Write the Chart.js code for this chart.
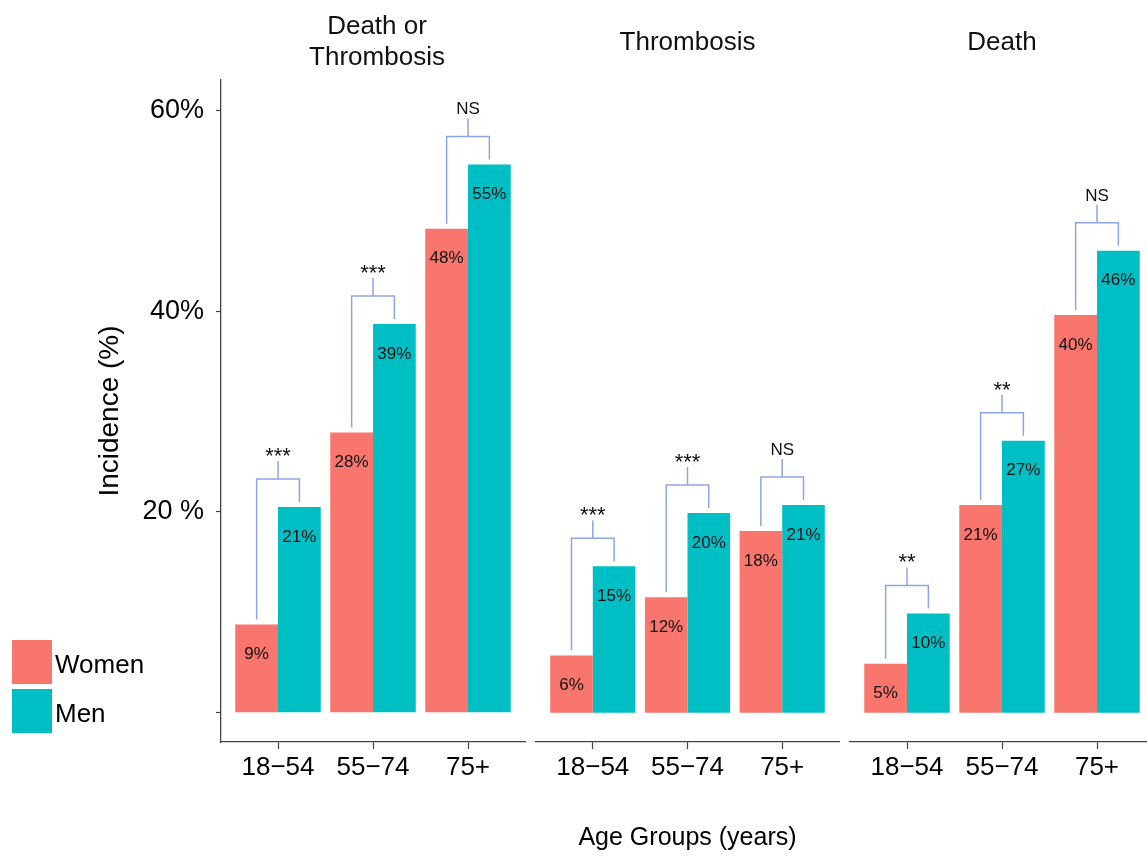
<!DOCTYPE html>
<html>
<head>
<meta charset="utf-8">
<script src="https://cdn.jsdelivr.net/npm/chart.js@4.4.1/dist/chart.umd.min.js"></script>
<style>
  body { margin: 0; background: #fff; overflow: hidden; }
  #wrap { position: relative; width: 1160px; height: 860px; }
  #wrap canvas { position: absolute; left: 0; top: 0; }
</style>
</head>
<body>
<div id="wrap">
  <canvas id="c1" width="1160" height="860"></canvas>
  <canvas id="c2" width="1160" height="860"></canvas>
  <canvas id="c3" width="1160" height="860"></canvas>
</div>
<script>
var ageGroups = ['18−54', '55−74', '75+'];
var seriesNames = ['Women', 'Men'];
var seriesColors = ['#F8766D', '#00BFC4'];

// incidence in %
var deathOrThrombosisWomen = [8.8, 27.9, 48.2];
var deathOrThrombosisMen = [20.5, 38.7, 54.6];
var thrombosisWomen = [5.7, 11.5, 18.1];
var thrombosisMen = [14.6, 19.9, 20.7];
var deathWomen = [4.9, 20.7, 39.6];
var deathMen = [9.9, 27.1, 46.0];

var deathOrThrombosisSig = ['***', '***', 'NS'];
var thrombosisSig = ['***', '***', 'NS'];
var deathSig = ['**', '**', 'NS'];

var yTickValues = [0, 20, 40, 60];
var yTickLabels = ['', '20 %', '40%', '60%'];

var fontFamily = '"Liberation Sans", Arial, Helvetica, sans-serif';
Chart.defaults.font.family = fontFamily;
Chart.defaults.color = '#000';

var facetPlugin = {
  id: 'facet',
  afterDatasetsDraw: function (chart, args, opts) {
    var c = chart.ctx;
    var area = chart.chartArea;
    var mid = (area.left + area.right) / 2;
    var w = chart.getDatasetMeta(0).data;
    var m = chart.getDatasetMeta(1).data;
    c.save();

    // facet title
    c.fillStyle = '#111';
    c.textAlign = 'center';
    c.textBaseline = 'middle';
    c.font = '26px ' + fontFamily;
    var y0 = opts.title.length > 1 ? 27 : 43;
    opts.title.forEach(function (t, i) {
      c.fillText(t, mid + opts.titleShift, y0 + i * 31);
    });

    // value labels inside bars
    c.font = '17px ' + fontFamily;
    [w, m].forEach(function (bars, k) {
      var vals = chart.data.datasets[k].data;
      bars.forEach(function (b, i) {
        c.fillText(Math.round(vals[i].y) + '%', b.x, b.y + 30);
      });
    });

    // significance brackets
    c.strokeStyle = '#8DA6E3';
    c.lineWidth = 1.5;
    w.forEach(function (a, i) {
      var e = m[i];
      var hy = Math.min(a.y, e.y) - 28;
      var cx = (a.x + e.x) / 2;
      c.beginPath();
      c.moveTo(a.x, a.y - 5);
      c.lineTo(a.x, hy);
      c.lineTo(e.x, hy);
      c.lineTo(e.x, e.y - 5);
      c.moveTo(cx, hy);
      c.lineTo(cx, hy - 18);
      c.stroke();
      var s = opts.sig[i];
      c.textBaseline = 'alphabetic';
      if (s === 'NS') {
        c.font = '17px ' + fontFamily;
        c.fillText(s, cx, hy - 22);
      } else {
        c.font = '22px ' + fontFamily;
        c.fillText(s, cx, hy - 16);
      }
    });

    // legend
    if (opts.legend) {
      c.textAlign = 'left';
      c.textBaseline = 'alphabetic';
      c.font = '26px ' + fontFamily;
      seriesNames.forEach(function (n, i) {
        c.fillStyle = seriesColors[i];
        c.fillRect(12, 640 + i * 49, 40, 44);
        c.fillStyle = '#000';
        c.fillText(n, 55, 673 + i * 49);
      });
    }
    c.restore();
  }
};

function toPoints(arr) {
  return arr.map(function (v, i) { return {x: i, y: v}; });
}

function makeChart(id, p) {
  var ctx = document.getElementById(id).getContext('2d');
  return new Chart(ctx, {
    type: 'bar',
    data: {
      datasets: [{
        label: seriesNames[0],
        data: toPoints(p.women),
        backgroundColor: seriesColors[0],
        categoryPercentage: 0.9,
        barPercentage: 1.0
      }, {
        label: seriesNames[1],
        data: toPoints(p.men),
        backgroundColor: seriesColors[1],
        categoryPercentage: 0.9,
        barPercentage: 1.0
      }]
    },
    options: {
      responsive: false,
      animation: false,
      events: [],
      layout: {
        padding: {left: p.padLeft, right: p.padRight, top: 80, bottom: 0}
      },
      plugins: {
        legend: {display: false},
        tooltip: {enabled: false},
        facet: {title: p.title, sig: p.sig, legend: p.legend, titleShift: p.titleShift || 0}
      },
      scales: {
        x: {
          type: 'linear',
          min: -0.6,
          max: 2.6,
          offset: false,
          afterBuildTicks: function (s) {
            s.ticks = ageGroups.map(function (g, i) { return {value: i}; });
          },
          afterFit: function (s) { s.height = 118; },
          ticks: {
            callback: function (v) { return ageGroups[v]; },
            font: {size: 26},
            color: '#000',
            padding: 3,
            maxRotation: 0,
            autoSkip: false
          },
          grid: {offset: false, drawOnChartArea: false, tickLength: 7, color: '#444', tickWidth: 1.2},
          border: {color: '#444', width: 1.3},
          title: {
            display: p.xTitle,
            text: 'Age Groups (years)',
            font: {size: 25},
            color: '#000',
            padding: {top: 0, bottom: 7}
          }
        },
        y: {
          display: p.showY,
          min: -2.9,
          max: 63,
          afterBuildTicks: function (s) {
            s.ticks = yTickValues.map(function (v) { return {value: v}; });
          },
          afterFit: function (s) { s.width = p.showY ? 221 : 0; },
          ticks: {
            callback: function (v) { return yTickLabels[yTickValues.indexOf(v)]; },
            font: {size: 27},
            color: '#000',
            padding: 12
          },
          grid: {drawOnChartArea: false, tickLength: 5, color: '#444', tickWidth: 1.2},
          border: {color: '#444', width: 1.3},
          title: {
            display: true,
            text: 'Incidence (%)',
            font: {size: 28},
            color: '#000',
            padding: {top: 93, bottom: 0}
          }
        }
      }
    },
    plugins: [facetPlugin]
  });
}

makeChart('c1', {
  title: ['Death or', 'Thrombosis'], women: deathOrThrombosisWomen, men: deathOrThrombosisMen,
  sig: deathOrThrombosisSig, padLeft: 0, padRight: 635, showY: true, xTitle: false, legend: true, titleShift: 4
});
makeChart('c2', {
  title: ['Thrombosis'], women: thrombosisWomen, men: thrombosisMen,
  sig: thrombosisSig, padLeft: 536, padRight: 321, showY: false, xTitle: true, legend: false
});
makeChart('c3', {
  title: ['Death'], women: deathWomen, men: deathMen,
  sig: deathSig, padLeft: 850, padRight: 6, showY: false, xTitle: false, legend: false
});
</script>
</body>
</html>
